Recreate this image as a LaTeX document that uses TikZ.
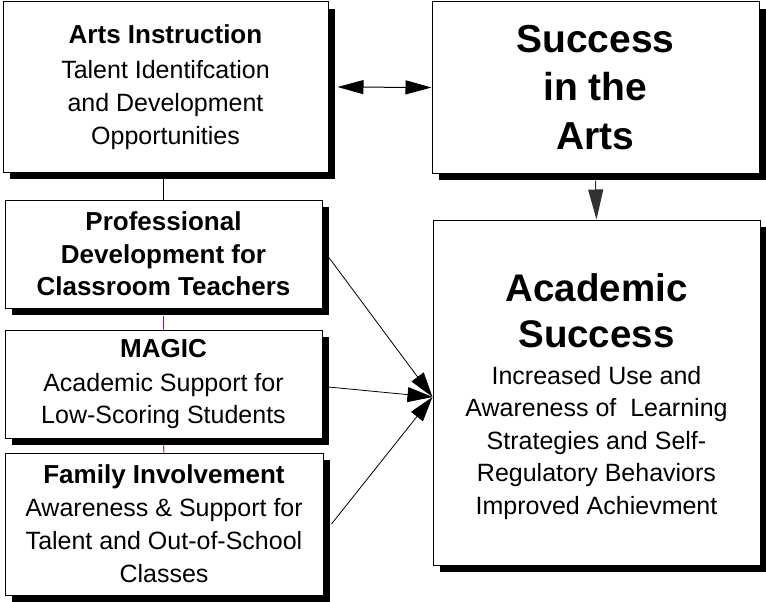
\documentclass[tikz,border=0pt]{standalone}
\usepackage{fontspec}
\setmainfont{Liberation Sans}
\usetikzlibrary{arrows.meta}
\definecolor{LinkPurple}{RGB}{140,30,140}
\definecolor{HeadGray}{RGB}{50,50,50}
\newcommand{\hd}[1]{{\fontsize{26}{33}\selectfont\bfseries #1}}
\newcommand{\bighd}[1]{{\fontsize{38.5}{46}\selectfont\bfseries #1}}

\begin{document}
\begin{tikzpicture}[x=1pt,y=-1pt,
  box/.style={draw,line width=1pt,fill=white,align=center,inner sep=0pt,
    preaction={fill=black,transform canvas={shift={(7pt,-7pt)}}},
    font=\fontsize{25}{33}\selectfont},
  link/.style={line width=1pt},
  feed/.style={line width=0.8pt,-{Triangle[length=25pt,width=15pt]}}]
\useasboundingbox (0,0) rectangle (766,602);
% left column
\node[box,minimum width=325pt,minimum height=170pt](arts)at(165.5,87){%
  \hd{Arts Instruction}\\[2pt]
  Talent Identifcation\\
  and Development\\
  Opportunities};
\node[box,minimum width=317pt,minimum height=108pt,font=\fontsize{25}{32.5}\selectfont](profdev)at(163.5,254){%
  \hd{Professional}\\
  \hd{Development for}\\
  \hd{Classroom Teachers}};
\node[box,minimum width=317pt,minimum height=108pt,font=\fontsize{25}{32.5}\selectfont](magic)at(163.5,384){%
  \hd{MAGIC}\\[1.5pt]
  Academic Support for\\
  Low-Scoring Students};
\node[box,minimum width=318pt,minimum height=142pt](family)at(164,524){%
  \hd{Family Involvement}\\
  Awareness \& Support for\\
  Talent and Out-of-School\\
  Classes};
% right column
\node[box,minimum width=327pt,minimum height=171pt,font=\fontsize{39}{48.5}\selectfont\bfseries](artsucc)at(595.5,87.5){%
  Success\\ in the\\ Arts};
% strut on the first line pushes the block down a little
\node[box,minimum width=327pt,minimum height=345pt,font=\fontsize{25}{32.5}\selectfont](acadsucc)at(596.5,392.5){%
  \rule{0pt}{36pt}\bighd{Academic}\\[13.5pt]
  \bighd{Success}\\[4.5pt]
  Increased Use and\\
  Awareness of~ Learning\\
  Strategies and Self-\\
  Regulatory Behaviors\\
  Improved Achievment};
% connectors
\draw[link](profdev.north)--(profdev.north|-arts.south);
\draw[link,LinkPurple](magic.north)--([yshift=-7pt]profdev.south);
\draw[link,LinkPurple](family.north)--([yshift=-7pt]magic.south);
\draw[link,{Triangle[length=26pt,width=14pt]}-{Triangle[length=26pt,width=14pt]}]
  ([xshift=9pt]arts.east)--(artsucc.west);
\draw[link,HeadGray,-{Triangle[length=30pt,width=15pt]}]
  ([yshift=-7pt]artsucc.south)--(acadsucc.north);
\coordinate(hub)at([yshift=-4.5pt]acadsucc.west);
\draw[feed]([xshift=6pt,yshift=-3pt]profdev.east)--(hub);
\draw[feed]([xshift=6pt,yshift=-3pt]magic.east)--(hub);
\draw[feed]([xshift=8pt]family.east)--(hub);
\end{tikzpicture}
\end{document}
